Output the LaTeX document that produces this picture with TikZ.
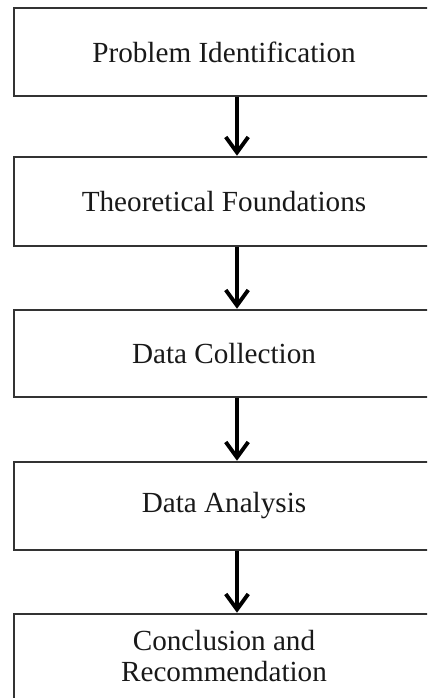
\documentclass[tikz,border=0pt]{standalone}
\usepackage{fontspec}
\setmainfont{Liberation Serif}
\usetikzlibrary{arrows.meta}
\definecolor{boxline}{HTML}{333333}
\tikzset{
  stepbox/.style={draw=boxline, line width=3.6pt, rectangle, minimum width=21cm,
    font=\fontsize{41.5}{43}\selectfont, text=black!90, align=center, inner sep=0pt},
  flow/.style={line width=5.5pt, black, -{Straight Barb[length=22pt,width=32pt,line width=5.5pt]}}
}
\begin{document}
\begin{tikzpicture}[x=0.05cm,y=-0.05cm]
  \useasboundingbox (0,0) rectangle (427,698);
  \clip (0,0) rectangle (427,698);
  \fill[white] (0,0) rectangle (427,698);
  \node[stepbox, minimum height=4.4cm] (b1) at (224,52) {Problem Identification};
  \node[stepbox, minimum height=4.45cm] (b2) at (224,201.5) {Theoretical Foundations};
  \node[stepbox, minimum height=4.35cm] (b3) at (224,353.5) {Data Collection};
  \node[stepbox, minimum height=4.4cm] (b4) at (224,506) {Data Analysis};
  \node[stepbox, minimum height=5cm] (b5) at (224,664) {};
  \node[font=\fontsize{41.5}{43}\selectfont, text=black!90, align=center, inner sep=0pt] (t5) at (224,656) {Conclusion and\\Recommendation};
  \coordinate (ax) at (237,0);
  \draw[flow] (b1.south -| ax) -- (b2.north -| ax);
  \draw[flow] (b2.south -| ax) -- (b3.north -| ax);
  \draw[flow] (b3.south -| ax) -- (b4.north -| ax);
  \draw[flow] (b4.south -| ax) -- (b5.north -| ax);
\end{tikzpicture}
\end{document}
